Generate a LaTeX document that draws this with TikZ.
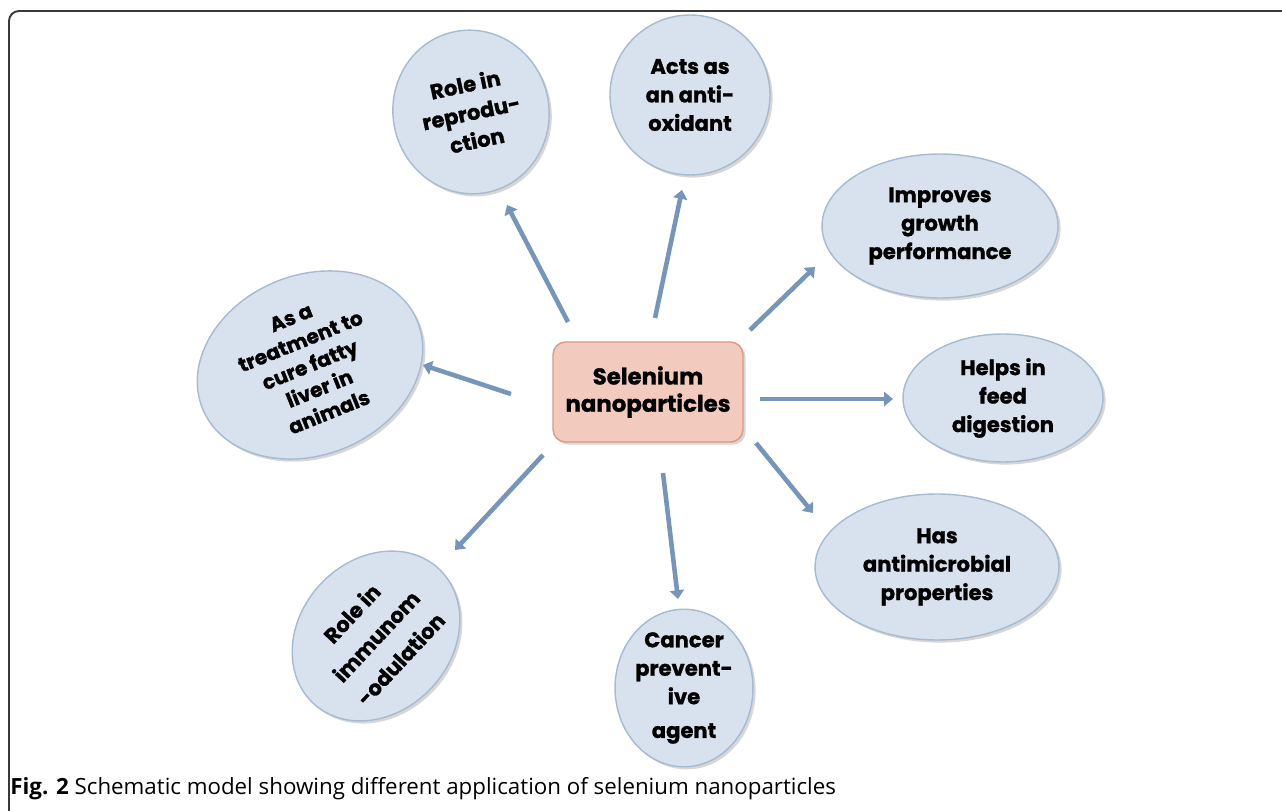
\documentclass[tikz,border=0pt]{standalone}
\usepackage{fontspec}
\usepackage{xcolor}
\usepackage{tikz}
\usetikzlibrary{shapes.geometric, arrows.meta, shadows}
\newfontfamily\bubblefont{Poppins}[BoldFeatures={FakeBold=1.2}]
\newfontfamily\capfont{Open Sans}
\definecolor{bubblefill}{HTML}{D8E2EE}
\definecolor{bubbleedge}{HTML}{A6BAD0}
\definecolor{boxfill}{HTML}{F3CBBE}
\definecolor{boxedge}{HTML}{D89A80}
\definecolor{arrowblue}{HTML}{7595BC}
\definecolor{framegray}{HTML}{3A3A3A}

\tikzset{
  bubble/.style={ellipse, draw=bubbleedge, line width=0.8pt, fill=bubblefill,
    inner sep=0pt, align=center,
    font=\bubblefont\bfseries\fontsize{12}{16.2}\selectfont,
    drop shadow={shadow xshift=1.5pt, shadow yshift=-1.5pt, fill=black!35, opacity=0.45}},
  centrebox/.style={rectangle, rounded corners=0.25cm, draw=boxedge, line width=0.8pt,
    fill=boxfill, align=center, minimum width=3.8cm, minimum height=2cm,
    font=\bubblefont\bfseries\fontsize{13}{15.5}\selectfont,
    drop shadow={shadow xshift=1.5pt, shadow yshift=-1.5pt, fill=black!35, opacity=0.45}},
  arr/.style={draw=arrowblue, line width=2.6pt, -{Triangle[length=5pt, width=8pt]}}
}

\begin{document}
\begin{tikzpicture}[x=0.02cm, y=-0.02cm]
\useasboundingbox (0,0) rectangle (1282,811);

% outer frame
\draw[framegray, line width=1.1pt, rounded corners=0.2cm] (9,811) |- (1282,11);

% centre
\node[centrebox] (ctr) at (648,392) {Selenium\\nanoparticles};

% applications
\node[bubble, minimum width=3.12cm, minimum height=3.28cm, rotate=12] (rep) at (471,112) {Role in\\reprodu-\\ction};
\node[bubble, minimum width=3.2cm, minimum height=3.2cm] (aox) at (690,95) {Acts as\\an anti-\\oxidant};
\node[bubble, minimum width=4.72cm, minimum height=2.88cm] (grow) at (940,226) {Improves\\growth\\performance};
\node[bubble, minimum width=4cm, minimum height=2.56cm] (feed) at (1003,398) {Helps in\\feed\\digestion};
\node[bubble, minimum width=4.88cm, minimum height=2.92cm] (micro) at (937,567) {Has\\antimicrobial\\properties};
\node[bubble, minimum width=2.56cm, minimum height=2.72cm] (cancer) at (684,688) {Cancer\\prevent-\\ive\\[3pt]agent};
\node[bubble, minimum width=3.68cm, minimum height=3.04cm, rotate=47,
  font=\bubblefont\bfseries\fontsize{12}{19}\selectfont] (immu) at (376,636) {Role in\\immunom\\-odulation};
\node[bubble, minimum width=4.64cm, minimum height=3.6cm, rotate=22,
  font=\bubblefont\bfseries\fontsize{11.5}{14.5}\selectfont] (liver) at (310,365) {As a\\treatment to\\cure fatty\\liver in\\animals};

% arrows
\draw[arr] ([shift={(-80,-70)}]ctr.center) -- ([shift={(36,93)}]rep.center);
\draw[arr] ([shift={(7,-74)}]ctr.center) -- ([shift={(-8,95)}]aox.center);
\draw[arr] ([shift={(102,-62)}]ctr.center) -- ([shift={(-125,41)}]grow.center);
\draw[arr] ([shift={(112,7)}]ctr.center) -- ([shift={(-110,1)}]feed.center);
\draw[arr] ([shift={(108,51)}]ctr.center) -- ([shift={(-124,-54)}]micro.center);
\draw[arr] ([shift={(15,81)}]ctr.center) -- ([shift={(-6,-89)}]cancer.center);
\draw[arr] ([shift={(-105,63)}]ctr.center) -- ([shift={(79,-86)}]immu.center);
\draw[arr] ([shift={(-137,2)}]ctr.center) -- ([shift={(113,0)}]liver.center);

% caption
\node[anchor=base west, inner sep=0pt, font=\capfont\fontsize{12.7}{14}\selectfont] (cap) at (10,794)
  {\textbf{Fig. 2} Schematic model showing different application of selenium nanoparticles};
\end{tikzpicture}
\end{document}
